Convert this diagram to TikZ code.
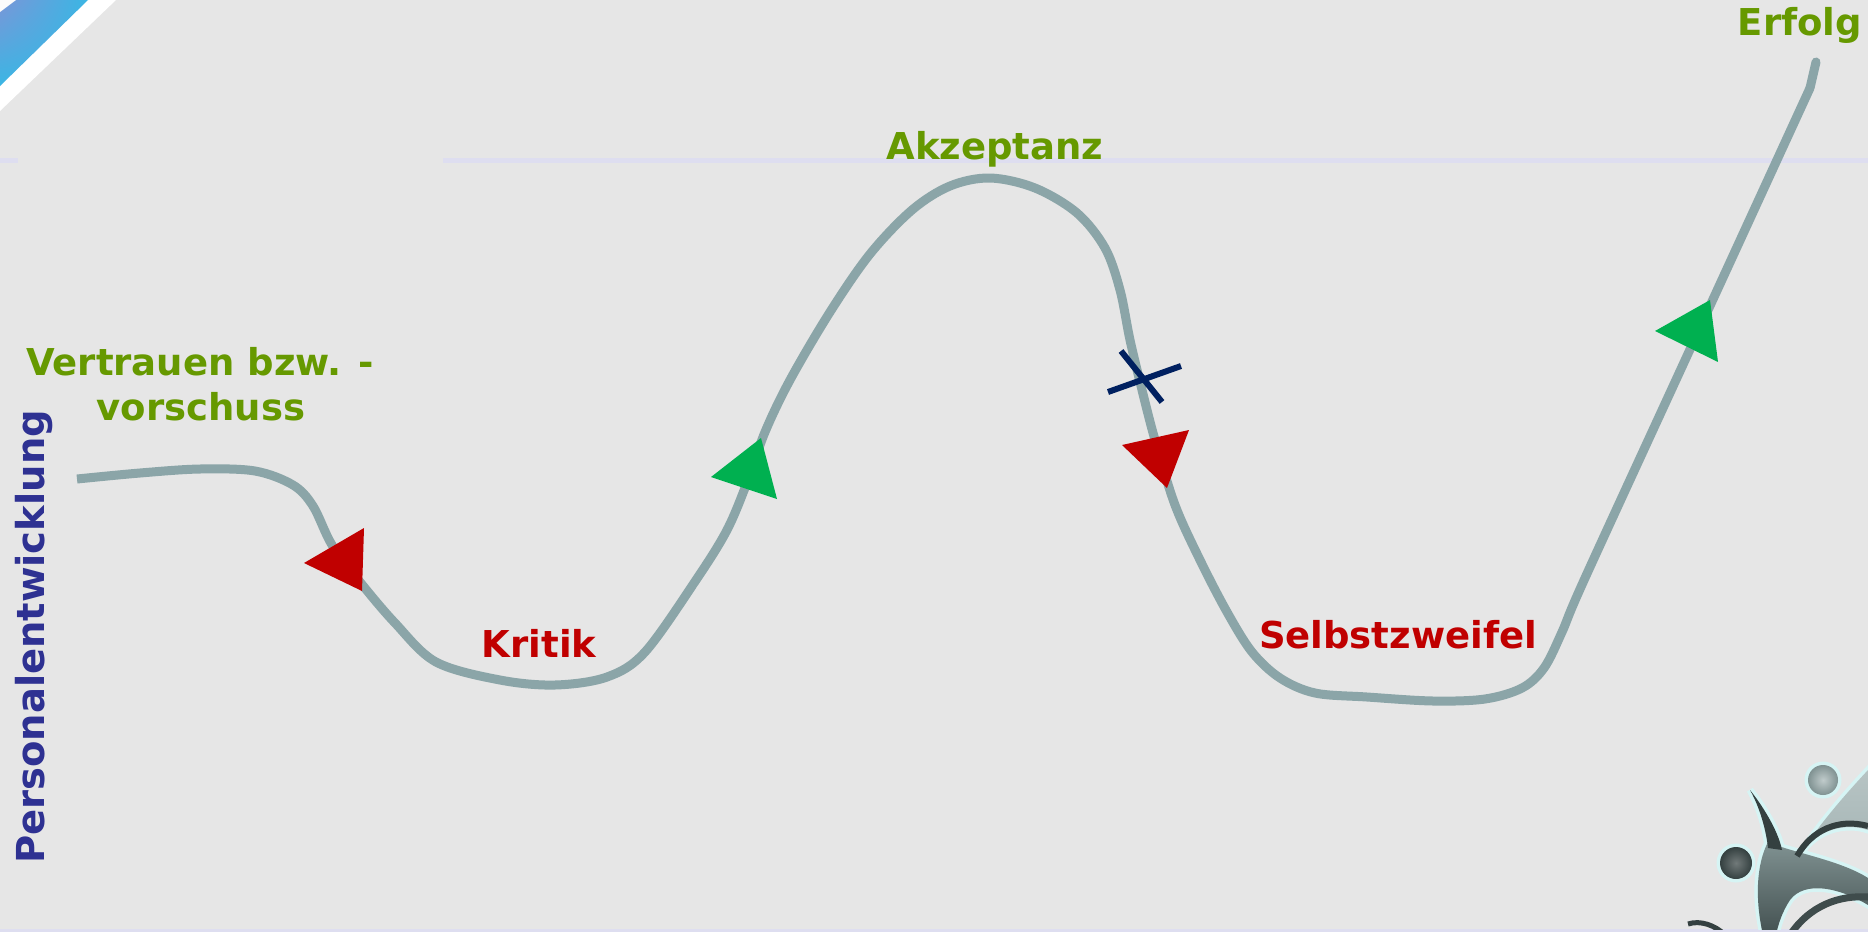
\documentclass[tikz,border=0pt]{standalone}
\usepackage{fontspec}
\setmainfont{DejaVu Sans}
\usetikzlibrary{shadings}
\definecolor{bg}{RGB}{230,230,230}
\definecolor{rule}{RGB}{222,222,240}
\definecolor{txtgreen}{RGB}{102,153,0}
\definecolor{txtred}{RGB}{192,0,0}
\definecolor{axisblue}{RGB}{46,49,146}
\definecolor{roadgrey}{RGB}{139,165,168}
\definecolor{arrgreen}{RGB}{0,176,80}
\definecolor{arrred}{RGB}{192,0,0}
\definecolor{crossnavy}{RGB}{0,32,96}
\definecolor{halo}{RGB}{214,244,244}
\definecolor{logodark}{RGB}{52,64,64}
\definecolor{logomid}{RGB}{128,146,146}
\definecolor{logolight}{RGB}{165,181,181}
\definecolor{ribbonviolet}{RGB}{122,150,216}
\definecolor{ribboncyan}{RGB}{58,182,228}
\begin{document}
\begin{tikzpicture}[x=1pt,y=-1pt,
  lbl/.style={font=\bfseries\fontsize{37}{44}\selectfont, inner sep=0pt, anchor=base},
  good/.style={lbl, text=txtgreen},
  bad/.style={lbl, text=txtred},
  road/.style={draw=roadgrey, line width=9pt, line join=round},
  upmark/.style={fill=arrgreen},
  downmark/.style={fill=arrred},
  cross/.style={draw=crossnavy, line width=6pt}]

% slide background and rules
\fill[bg] (0,0) rectangle (1868,932);
\useasboundingbox (0,0) rectangle (1868,932);
\fill[rule] (0,158) rectangle (18,163);
\fill[rule] (443,158) rectangle (1868,163);
\fill[rule] (0,929) rectangle (1868,932);

% corner ribbon
\fill[white] (0,0) -- (116,0) -- (0,111) -- cycle;
\shade[upper left=ribbonviolet, upper right=ribboncyan, lower left=ribboncyan, lower right=ribboncyan]
  (0,0) -- (88,0) -- (0,86) -- cycle;
\fill[white!85!bg] (0,0) -- (16,0) -- (0,12) -- cycle;

% logo in the lower right corner
\begin{scope}
  \clip (0,0) rectangle (1868,929);
  \draw[halo, line width=7pt, fill=halo] (1736,863) circle (16);
  \draw[halo, line width=7pt, fill=halo] (1823,780) circle (15);
  \draw[halo, line width=7pt, fill=halo]
    (1768,842) .. controls (1790,852) and (1840,860) .. (1868,878) -- (1868,905)
    .. controls (1840,888) and (1805,880) .. (1790,900) .. controls (1782,912) and (1778,925) .. (1776,935)
    -- (1763,935) .. controls (1755,900) and (1756,865) .. cycle;
  \draw[halo, line width=7pt, fill=halo]
    (1800,855) .. controls (1815,830) and (1840,800) .. (1868,770) -- (1868,830)
    .. controls (1845,822) and (1815,830) .. cycle;
  \draw[halo, line width=7pt, fill=halo]
    (1750,790) .. controls (1762,805) and (1778,830) .. (1782,850) -- (1768,848)
    .. controls (1766,830) and (1760,808) .. cycle;
  % figures
  \shade[top color=logomid, bottom color=logodark!80!logomid]
    (1768,842) .. controls (1790,852) and (1840,860) .. (1868,878) -- (1868,905)
    .. controls (1840,888) and (1805,880) .. (1790,900) .. controls (1782,912) and (1778,925) .. (1776,935)
    -- (1763,935) .. controls (1755,900) and (1756,865) .. cycle;
  \shade[top color=logolight!80!white, bottom color=logolight]
    (1800,855) .. controls (1815,830) and (1840,800) .. (1868,770) -- (1868,830)
    .. controls (1845,822) and (1815,830) .. cycle;
  \fill[logodark]
    (1750,790) .. controls (1762,805) and (1778,830) .. (1782,850) -- (1768,848)
    .. controls (1766,830) and (1760,808) .. cycle;
  \draw[logodark, line width=6pt] (1797,856) .. controls (1812,830) and (1838,818) .. (1868,826);
  \draw[logodark!85!logomid, line width=7pt] (1790,935) .. controls (1810,905) and (1840,895) .. (1868,897);
  \draw[logodark, line width=5pt] (1688,924) .. controls (1700,920) and (1715,925) .. (1725,935);
  \shade[inner color=logodark!70!white, outer color=logodark] (1736,863) circle (16);
  \shade[inner color=logolight!70!white, outer color=logomid] (1823,780) circle (15);
\end{scope}

% the road from trust to success
\coordinate (start) at (77,479);
\coordinate (top) at (1810,88);
\coordinate (finish) at (1816,62);
\draw[road] plot[smooth, tension=0.55] coordinates {
  (77,479) (140,473) (200,469) (255,471) (293,485) (313,506) (332,545)
  (360,582) (395,623) (436,662) (500,680) (555,685) (607,677) (645,652)
  (696,580) (727,530) (748,480) (765,432) (790,380) (830,312) (870,254)
  (912,210) (950,186) (990,178) (1035,188) (1077,213) (1105,248) (1120,290)
  (1130,340) (1142,390) (1155,440) (1175,505) (1200,560) (1227,612) (1252,652)
  (1280,678) (1315,693) (1367,697) (1433,701) (1485,699) (1522,688) (1544,668)
  (1562,632) (1585,578) (1692,345) (1810,88)};
\draw[road, line cap=round] (top) -- (finish);

% direction marks
\fill[downmark] (304,563) -- (364,528) -- (362,591) -- cycle;
\fill[upmark] (711,477) -- (761,438) -- (777,499) -- cycle;
\fill[downmark] (1122,445) -- (1189,430) -- (1167,488) -- cycle;
\fill[upmark] (1655,331) -- (1710,300) -- (1718,362) -- cycle;

% turning point cross
\coordinate (xa) at (1121,351);
\coordinate (xb) at (1162,402);
\coordinate (xc) at (1108,392);
\coordinate (xd) at (1181,366);
\draw[cross] (xa) -- (xb);
\draw[cross] (xc) -- (xd);

% labels
\node[good] (erfolg) at (1800,35) {Erfolg};
\node[good] (akzeptanz) at (995,159) {Akzeptanz};
\node[good] (vertrauen) at (200,375) {Vertrauen bzw. -};
\node[good] (vorschuss) at (201,420) {vorschuss};
\node[bad] (kritik) at (539,657) {Kritik};
\node[bad] (zweifel) at (1398,648) {Selbstzweifel};
\node[lbl, text=axisblue, rotate=90, font=\bfseries\fontsize{38.5}{44}\selectfont] (axis) at (44,637) {Personalentwicklung};
\end{tikzpicture}
\end{document}
